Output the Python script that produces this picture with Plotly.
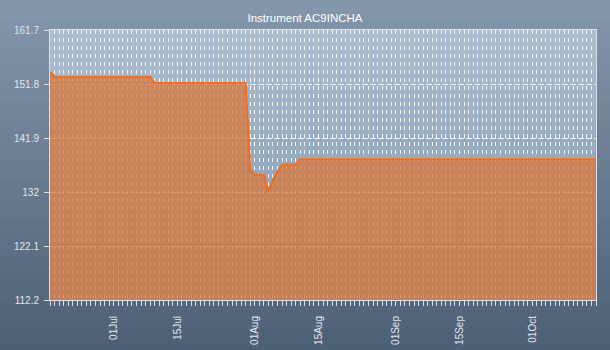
import pandas as pd
import plotly.graph_objects as go

title_text = "Instrument AC9INCHA"
start_date = "2024-06-17"
end_date = "2024-10-15"

# daily values, Jun 17 .. Oct 15
values = [
    154.0,
    153.1, 153.1, 153.1, 153.1, 153.1, 153.1, 153.1, 153.1, 153.1, 153.1, 153.1,
    153.1, 153.1, 153.1, 153.1, 153.1, 153.1, 153.1, 153.1, 153.1, 153.1, 153.1,
    152.0, 152.0, 152.0, 152.0, 152.0, 152.0, 152.0, 152.0, 152.0, 152.0, 152.0,
    152.0, 152.0, 152.0, 152.0, 152.0, 152.0, 152.0, 152.0, 152.0, 152.0,
    136.0, 135.1, 135.1, 135.1, 132.0, 134.2, 135.8, 136.9, 137.0, 137.0, 137.0,
    138.0, 138.0, 138.0, 138.0, 138.0, 138.0, 138.0, 138.0, 138.0, 138.0, 138.0,
    138.0, 138.0, 138.0, 138.0, 138.0, 138.0, 138.0, 138.0, 138.0, 138.0, 138.0,
    138.0, 138.0, 138.0, 138.0, 138.0, 138.0, 138.0, 138.0, 138.0, 138.0, 138.0,
    138.0, 138.0, 138.0, 138.0, 138.0, 138.0, 138.0, 138.0, 138.0, 138.0, 138.0,
    138.0, 138.0, 138.0, 138.0, 138.0, 138.0, 138.0, 138.0, 138.0, 138.0, 138.0,
    138.0, 138.0, 138.0, 138.0, 138.0, 138.0, 138.0, 138.0, 138.0, 138.0, 138.0,
]
dates = pd.date_range(start_date, periods=len(values), freq="D")

y_ticks = [112.2, 122.1, 132.0, 141.9, 151.8, 161.7]
y_ticktext = ["112.2", "122.1", "132", "141.9", "151.8", "161.7"]
x_ticks = ["2024-07-01", "2024-07-15", "2024-08-01", "2024-08-15",
           "2024-09-01", "2024-09-15", "2024-10-01"]

W, H = 610, 350
ML, MR, MT, MB = 50, 14, 30, 50
PW, PH = W - ML - MR, H - MT - MB


def lerp(c1, c2, t):
    return "rgb(%d,%d,%d)" % tuple(round(a + (b - a) * t) for a, b in zip(c1, c2))


shapes = []
# page gradient
paper_top, paper_bot = (132, 151, 172), (77, 95, 116)
step = 10
for py in range(0, H, step):
    t = (py + step / 2) / H
    shapes.append(dict(
        type="rect", xref="paper", yref="paper", layer="below",
        x0=-ML / PW, x1=1 + MR / PW,
        y0=(H - MB - (py + step + 1)) / PH, y1=(H - MB - py) / PH,
        fillcolor=lerp(paper_top, paper_bot, t), line=dict(width=0)))
# plot-area gradient
plot_top, plot_bot = (172, 190, 208), (126, 148, 172)
for py in range(0, PH, step):
    t = (py + step / 2) / PH
    y1 = 1 - py / PH
    y0 = max(0, 1 - (py + step + 1) / PH)
    shapes.append(dict(
        type="rect", xref="paper", yref="paper", layer="below",
        x0=0, x1=1, y0=y0, y1=y1,
        fillcolor=lerp(plot_top, plot_bot, t), line=dict(width=0)))

fig = go.Figure()
fig.add_trace(go.Scatter(
    x=dates, y=values, mode="lines",
    line=dict(color="rgb(240,110,30)", width=2),
    fill="tozeroy", fillcolor="rgba(215,120,62,0.78)",
    hoverinfo="skip", showlegend=False))

font_color = "rgb(225,231,237)"
grid_color = "rgba(255,255,255,0.85)"
axis_color = "rgba(225,231,237,0.95)"

fig.update_layout(
    width=W, height=H,
    margin=dict(l=ML, r=MR, t=MT, b=MB, autoexpand=False),
    paper_bgcolor="rgb(104,123,144)",
    plot_bgcolor="rgba(0,0,0,0)",
    shapes=shapes,
    title=dict(text=title_text, x=0.5, xanchor="center", xref="container",
               y=1 - 18 / H, yref="container", yanchor="middle",
               font=dict(family="Liberation Sans, Arial", size=11.5, color="white")),
    font=dict(family="Liberation Sans, Arial", size=10, color=font_color),
    xaxis=dict(
        type="date", range=[start_date, end_date], automargin=False,
        tickvals=x_ticks, tickformat="%d%b", tickangle=-90,
        ticks="outside", ticklen=5, tickcolor=axis_color,
        ticklabelstandoff=6,
        showgrid=True, gridcolor=grid_color, griddash="4px,4px", gridwidth=1,
        minor=dict(dtick=86400000, ticks="outside", ticklen=5, tickcolor=axis_color,
                   showgrid=True, gridcolor=grid_color, griddash="4px,4px", gridwidth=1),
        showline=True, linecolor=axis_color, linewidth=1, mirror=True,
        zeroline=False, fixedrange=True,
    ),
    yaxis=dict(
        range=[112.2, 161.7], tickvals=y_ticks, ticktext=y_ticktext, automargin=False,
        ticks="outside", ticklen=5, tickcolor=axis_color, ticklabelstandoff=3,
        showgrid=True, gridcolor=grid_color, griddash="6px,2px", gridwidth=1,
        showline=True, linecolor=axis_color, linewidth=1, mirror=True,
        zeroline=False, fixedrange=True,
    ),
)

fig.write_html("out.html")
